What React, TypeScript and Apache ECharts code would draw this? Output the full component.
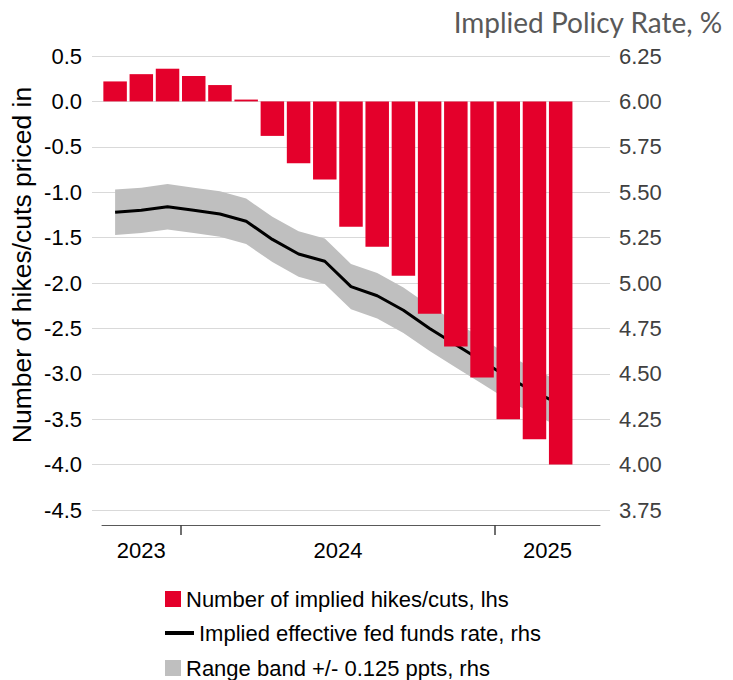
import React, { useEffect, useRef } from "react";
import * as echarts from "echarts";

// Monthly contract slots; the last slot is left empty so the axis runs through April 2025.
const months = [
  "Oct 2023", "Nov 2023", "Dec 2023",
  "Jan 2024", "Feb 2024", "Mar 2024", "Apr 2024", "May 2024", "Jun 2024",
  "Jul 2024", "Aug 2024", "Sep 2024", "Oct 2024", "Nov 2024", "Dec 2024",
  "Jan 2025", "Feb 2025", "Mar 2025", "Apr 2025",
];

// Number of implied hikes (+) / cuts (-), left axis
const hikesCuts = [
  0.22, 0.3, 0.36, 0.28, 0.18, 0.02, -0.38, -0.68, -0.86,
  -1.38, -1.6, -1.92, -2.34, -2.7, -3.04, -3.5, -3.72, -4.0,
];

// Implied effective fed funds rate (%), right axis
const impliedRate = [
  5.39, 5.4, 5.42, 5.4, 5.38, 5.34, 5.24, 5.16, 5.12,
  4.98, 4.93, 4.85, 4.75, 4.66, 4.57, 4.48, 4.4, 4.33,
];

// Half width of the range band, in percentage points
const bandHalfWidth = 0.125;

const leftTicks = { min: -4.5, max: 0.5, interval: 0.5 };
const rightTicks = { min: 3.75, max: 6.25, interval: 0.25 };

const FONT = "'Liberation Sans', Arial, sans-serif";

const BAR_NAME = "Number of implied hikes/cuts, lhs";
const LINE_NAME = "Implied effective fed funds rate, rhs";
const BAND_NAME = "Range band +/- 0.125 ppts, rhs";

// Year spans along the month axis
function yearSpans() {
  const spans: { year: string; first: number; last: number }[] = [];
  months.forEach((m, i) => {
    const y = m.split(" ")[1];
    const cur = spans[spans.length - 1];
    if (cur && cur.year === y) cur.last = i;
    else spans.push({ year: y, first: i, last: i });
  });
  return spans;
}

export default function App() {
  const ref = useRef<HTMLDivElement>(null);

  useEffect(() => {
    if (!ref.current) return;
    const chart = echarts.init(ref.current, undefined, { renderer: "svg" });

    const spans = yearSpans();
    const yearCenters = spans.map((s) => (s.first + s.last) / 2);
    const yearBoundaries = spans.slice(1).map((s) => s.first - 0.5);

    const option: echarts.EChartsOption = {
      animation: false,
      title: {
        text: "Implied Policy Rate, %",
        right: 5,
        top: 3,
        textStyle: {
          fontFamily: "Lato, 'Open Sans', sans-serif",
          fontSize: 28,
          fontWeight: "normal",
          color: "#595959",
        },
      },
      grid: [
        { left: 92, right: 123, top: 56, bottom: 170 },
        { left: 102, right: 133, top: 56, bottom: 170 },
      ],
      xAxis: [
        // gridline frame
        { gridIndex: 0, type: "value", show: false, min: 0, max: 1 },
        // month slots that carry the series
        {
          gridIndex: 1,
          type: "category",
          position: "top",
          data: months,
          boundaryGap: true,
          show: false,
        },
        // visible axis: year boundary ticks and centred year labels
        {
          gridIndex: 1,
          type: "value",
          position: "bottom",
          min: -0.5,
          max: months.length - 0.5,
          offset: 15,
          axisLine: { show: true, onZero: false, lineStyle: { color: "#595959", width: 1 } },
          axisTick: {
            show: true,
            customValues: yearBoundaries,
            length: 10,
            inside: false,
            lineStyle: { color: "#404040", width: 1.5 },
          },
          axisLabel: {
            customValues: yearCenters,
            formatter: (v: number) => {
              const idx = yearCenters.findIndex((c) => Math.abs(c - v) < 1e-6);
              return idx >= 0 ? spans[idx].year : "";
            },
            margin: 14,
            fontFamily: FONT,
            fontSize: 22,
            color: "#000",
          },
          splitLine: { show: false },
        },
      ],
      yAxis: [
        {
          gridIndex: 0,
          type: "value",
          position: "left",
          ...leftTicks,
          axisLine: { show: false },
          axisTick: { show: false },
          axisLabel: {
            formatter: (v: number) => v.toFixed(1),
            margin: 10,
            fontFamily: FONT,
            fontSize: 22,
            color: "#000",
          },
          splitLine: { show: true, lineStyle: { color: "#d9d9d9", width: 1 } },
        },
        {
          gridIndex: 0,
          type: "value",
          position: "right",
          ...rightTicks,
          axisLine: { show: false },
          axisTick: { show: false },
          axisLabel: {
            formatter: (v: number) => v.toFixed(2),
            margin: 9,
            fontFamily: FONT,
            fontSize: 22,
            color: "#404040",
          },
          splitLine: { show: false },
        },
        { gridIndex: 1, type: "value", show: false, position: "left", min: leftTicks.min, max: leftTicks.max },
        { gridIndex: 1, type: "value", show: false, position: "right", min: rightTicks.min, max: rightTicks.max },
      ],
      legend: [
        {
          data: [BAR_NAME],
          left: 165,
          top: 588,
          padding: 0,
          icon: "rect",
          itemWidth: 16,
          itemHeight: 16,
          selectedMode: false,
          textStyle: { fontFamily: FONT, fontSize: 22, color: "#000" },
        },
        {
          data: [LINE_NAME],
          left: 165,
          top: 622,
          padding: 0,
          icon: "rect",
          itemWidth: 29,
          itemHeight: 4,
          selectedMode: false,
          itemStyle: { color: "#000" },
          textStyle: { fontFamily: FONT, fontSize: 22, color: "#000" },
        },
        {
          data: [BAND_NAME],
          left: 165,
          top: 657,
          padding: 0,
          icon: "rect",
          itemWidth: 16,
          itemHeight: 16,
          selectedMode: false,
          itemStyle: { color: "#bfbfbf" },
          textStyle: { fontFamily: FONT, fontSize: 22, color: "#000" },
        },
      ],
      graphic: [
        {
          type: "text",
          x: 22,
          y: 265,
          rotation: Math.PI / 2,
          style: {
            text: "Number of hikes/cuts priced in",
            fontFamily: FONT,
            fontSize: 26.5,
            fill: "#000",
            align: "center",
            verticalAlign: "middle",
          },
        },
      ],
      series: [
        {
          name: "band-base",
          type: "line",
          xAxisIndex: 1,
          yAxisIndex: 3,
          stack: "band",
          data: impliedRate.map((r) => r - bandHalfWidth),
          symbol: "none",
          lineStyle: { width: 0, opacity: 0 },
          silent: true,
          z: 1,
        },
        {
          name: BAND_NAME,
          type: "line",
          xAxisIndex: 1,
          yAxisIndex: 3,
          stack: "band",
          data: impliedRate.map(() => 2 * bandHalfWidth),
          symbol: "none",
          lineStyle: { width: 0, opacity: 0 },
          itemStyle: { color: "#bfbfbf" },
          areaStyle: { color: "#bfbfbf", opacity: 1 },
          silent: true,
          z: 1,
        },
        {
          name: LINE_NAME,
          type: "line",
          xAxisIndex: 1,
          yAxisIndex: 3,
          data: impliedRate,
          symbol: "none",
          lineStyle: { color: "#000", width: 3 },
          itemStyle: { color: "#000" },
          z: 2,
        },
        {
          name: BAR_NAME,
          type: "bar",
          xAxisIndex: 1,
          yAxisIndex: 2,
          data: hikesCuts,
          barWidth: 23.5,
          itemStyle: { color: "#e4002b" },
          z: 3,
        },
      ],
    };

    chart.setOption(option);
    return () => chart.dispose();
  }, []);

  return (
    <div
      ref={ref}
      style={{ position: "absolute", left: 0, top: 0, width: 733, height: 680, background: "#fff" }}
    />
  );
}
